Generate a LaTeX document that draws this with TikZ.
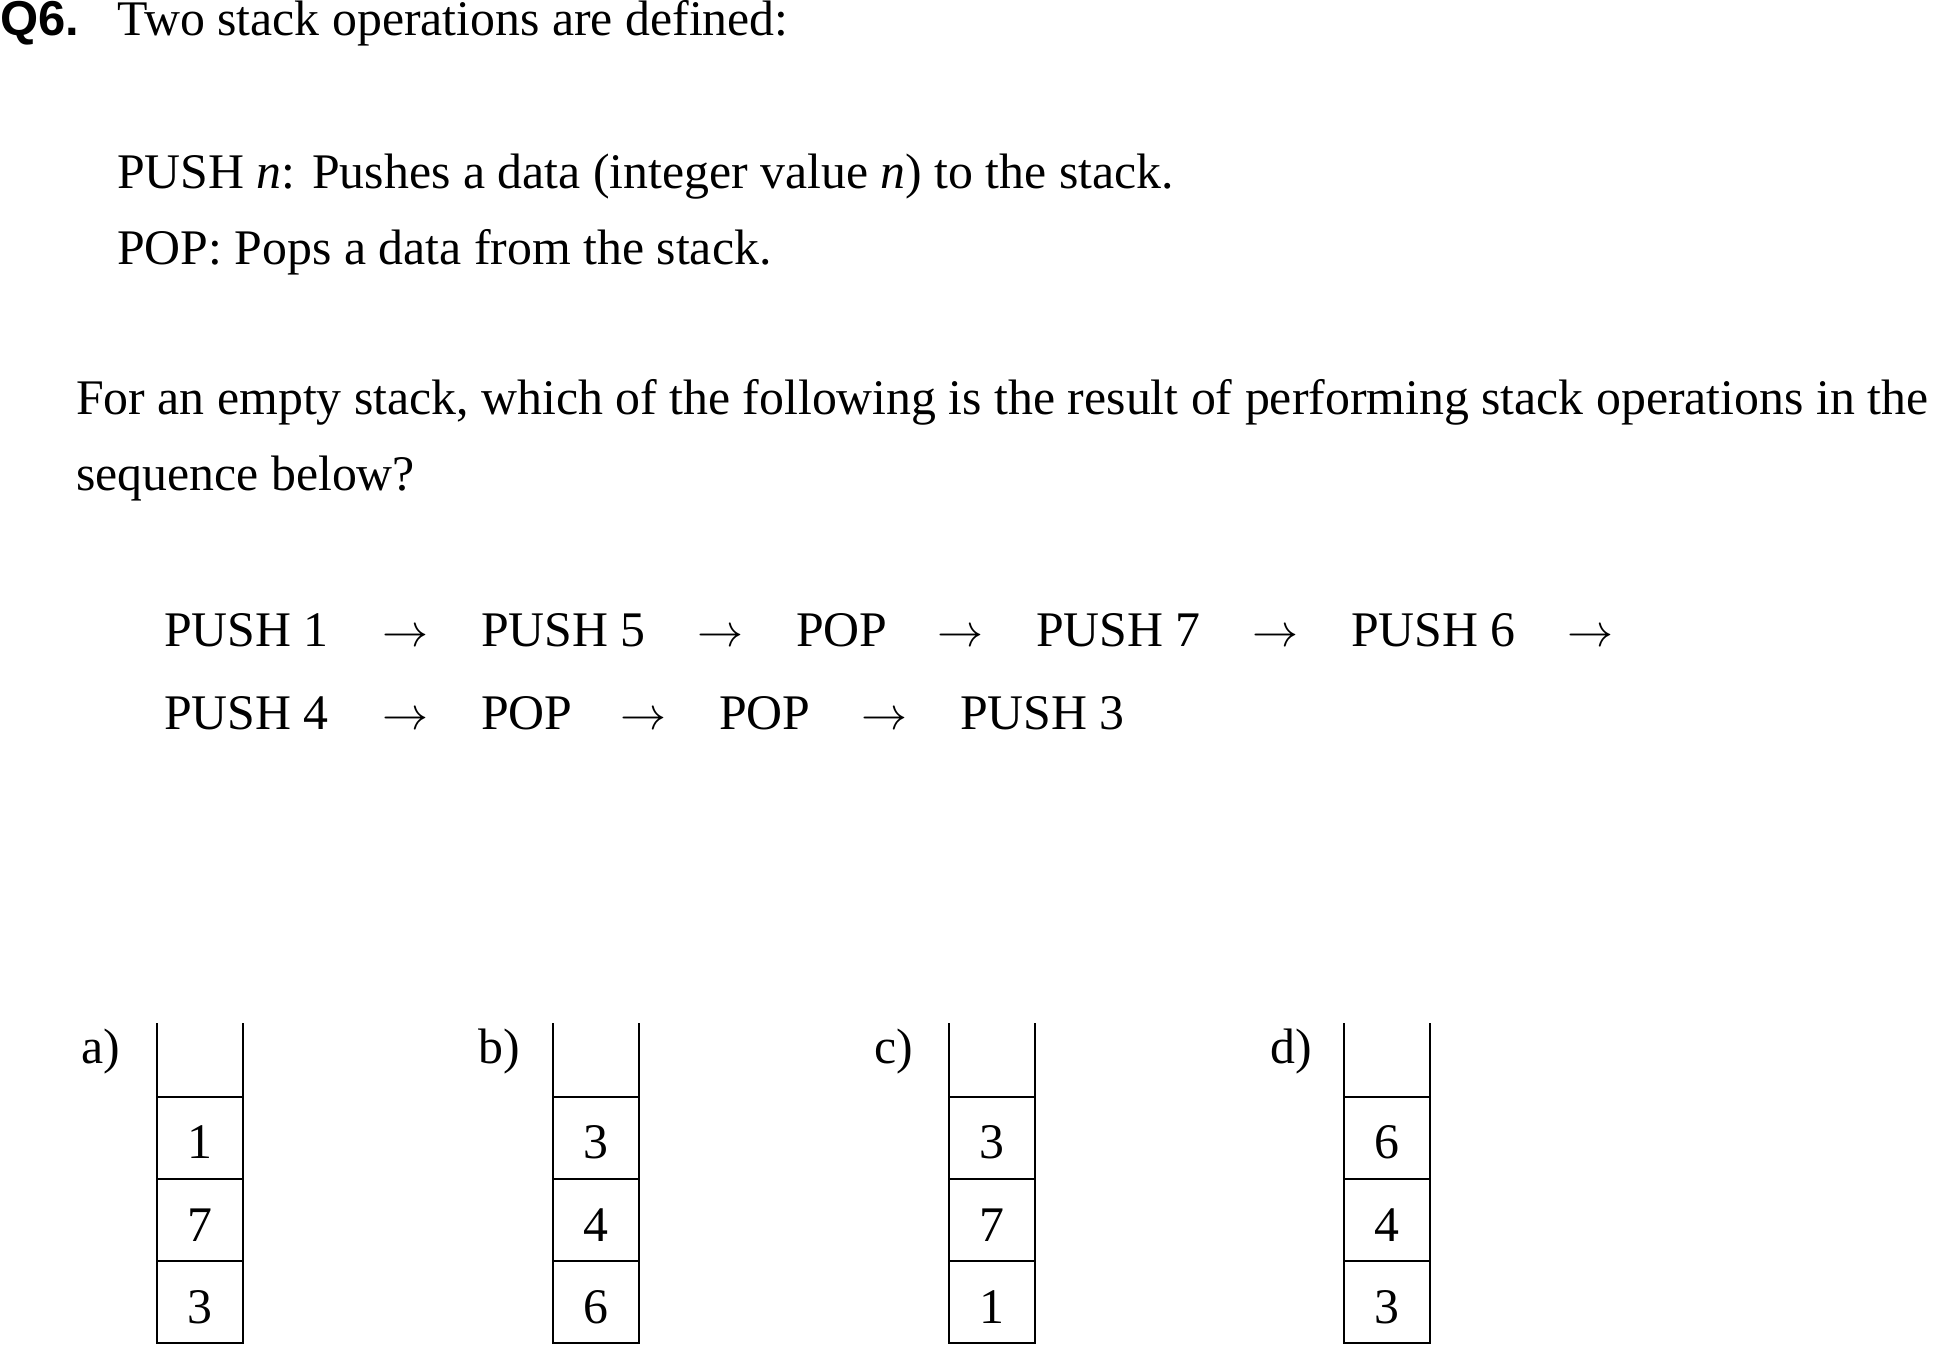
\RequirePackage{fix-cm}
\documentclass[tikz,border=0pt]{standalone}
\usepackage{fontspec}
\setmainfont{Liberation Serif}
\newfontfamily\qfont{Liberation Sans}
\begin{document}
\begin{tikzpicture}[x=1pt,y={(0pt,-1pt)},
  txt/.style={anchor=base west,inner sep=0pt,font=\fontsize{49.8}{60}\selectfont},
  arr/.style={anchor=base west,inner sep=0pt,font=\fontsize{46}{56}\selectfont},
  cell/.style={draw,line width=2.5pt,minimum width=86pt,minimum height=82pt,inner sep=0pt,outer sep=0pt},
  num/.style={anchor=base,inner sep=0pt,font=\fontsize{49.8}{60}\selectfont},
  stackline/.style={line width=2.5pt}]
\useasboundingbox (0,0) rectangle (1934,1348);
% heading
\node[txt,font=\qfont\bfseries\fontsize{49}{58}\selectfont] (q) at (0,36) {Q6.};
\node[txt] (l1) at (117,36) {Two stack operations are defined:};
\node[txt] (l2) at (117,189) {PUSH \textit{n}: Pushes a data (integer value \textit{n}) to the stack.};
\node[txt] (l3) at (117,265) {POP: Pops a data from the stack.};
\node[txt] (l4) at (76,414) {For an empty stack, which of the following is the result of performing stack operations in the};
\node[txt] (l5) at (76,490) {sequence below?};
% sequence row 1
\node[txt] (s1) at (164,646) {PUSH 1};
\node[arr] (r1) at (382,646) {$\rightarrow$};
\node[txt] (s2) at (481,646) {PUSH 5};
\node[arr] (r2) at (697,646) {$\rightarrow$};
\node[txt] (s3) at (796,646) {POP};
\node[arr] (r3) at (937,646) {$\rightarrow$};
\node[txt] (s4) at (1036,646) {PUSH 7};
\node[arr] (r4) at (1252,646) {$\rightarrow$};
\node[txt] (s5) at (1351,646) {PUSH 6};
\node[arr] (r5) at (1567,646) {$\rightarrow$};
% sequence row 2
\node[txt] (s6) at (164,729) {PUSH 4};
\node[arr] (r6) at (382,729) {$\rightarrow$};
\node[txt] (s7) at (481,729) {POP};
\node[arr] (r7) at (620,729) {$\rightarrow$};
\node[txt] (s8) at (719,729) {POP};
\node[arr] (r8) at (861,729) {$\rightarrow$};
\node[txt] (s9) at (960,729) {PUSH 3};
% stacks
\foreach \lab/\cx/\lx/\va/\vb/\vc in {a/200/81/1/7/3, b/596/478/3/4/6, c/992/874/3/7/1, d/1387/1270/6/4/3}{
  \node[txt] (\lab lab) at (\lx,1063) {\lab)};
  \node[cell] (\lab1) at (\cx,1138) {};
  \node[cell] (\lab2) at (\cx,1220) {};
  \node[cell] (\lab3) at (\cx,1302) {};
  \node[num] (\lab1t) at (\cx,1158) {\va};
  \node[num] (\lab2t) at (\cx,1241) {\vb};
  \node[num] (\lab3t) at (\cx,1323) {\vc};
  \draw[stackline] (\lab1.north west) -- ++(0,-74);
  \draw[stackline] (\lab1.north east) -- ++(0,-74);
}
\end{tikzpicture}
\end{document}
